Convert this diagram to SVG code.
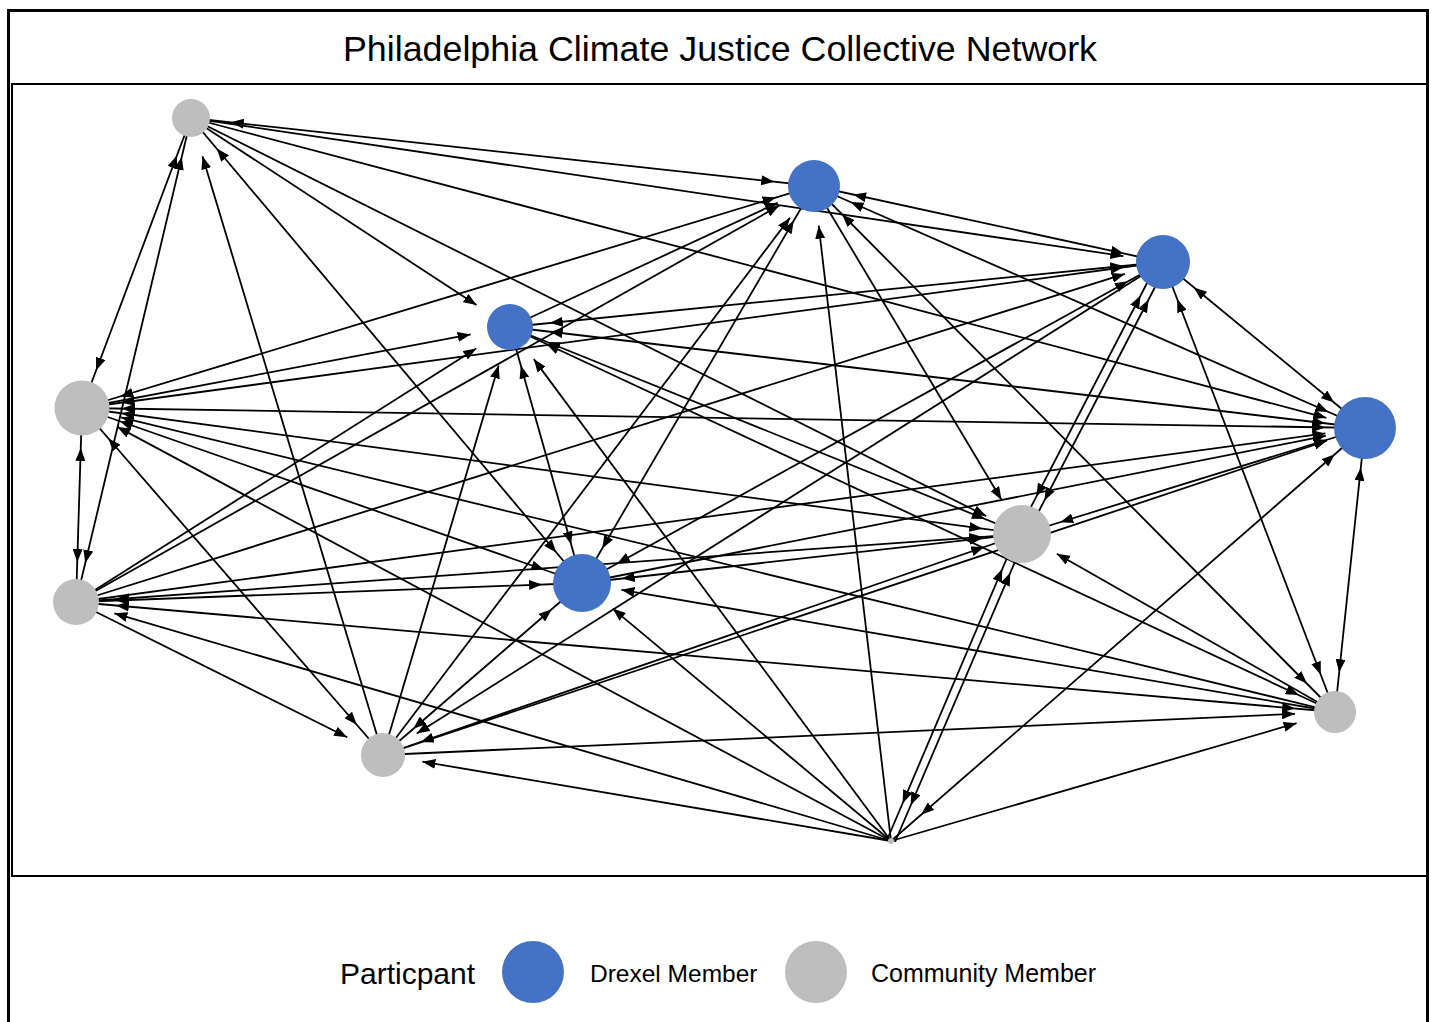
<svg xmlns="http://www.w3.org/2000/svg" width="1435" height="1022" viewBox="0 0 1435 1022">
<style>
.e{stroke:#000;stroke-width:1.8;fill:none}
.m{marker-start:url(#h2);marker-end:url(#h2)}
.o{marker-end:url(#h0)}
.g{fill:#bebebe}
.b{fill:#4472c4}
text{font-family:"Liberation Sans",Arial,sans-serif;fill:#000}
</style>
<defs>
<marker id="h0" markerUnits="userSpaceOnUse" markerWidth="13" markerHeight="10" refX="13" refY="5" orient="auto"><path d="M0,0L13,5L0,10Z" fill="#000"/></marker>
<marker id="h2" markerUnits="userSpaceOnUse" markerWidth="13" markerHeight="10" refX="53" refY="5" orient="auto-start-reverse"><path d="M0,0L13,5L0,10Z" fill="#000"/></marker>
</defs>
<rect width="1435" height="1022" fill="#fff"/>
<rect x="8.5" y="10.5" width="1419" height="1020" fill="none" stroke="#000" stroke-width="3"/>
<rect x="12" y="84" width="1415" height="792" fill="none" stroke="#000" stroke-width="2"/>
<text x="720" y="61" font-size="35.8" text-anchor="middle">Philadelphia Climate Justice Collective Network</text>
<g id="edges">
<line class="e m" x1="191" y1="118" x2="814" y2="186"/>
<line class="e m" x1="191" y1="118" x2="82" y2="408"/>
<line class="e m" x1="191" y1="118" x2="76" y2="602"/>
<line class="e m" x1="191" y1="118" x2="582" y2="583"/>
<line class="e m" x1="814" y1="186" x2="1163" y2="262"/>
<line class="e m" x1="814" y1="186" x2="1365" y2="428"/>
<line class="e m" x1="814" y1="186" x2="1335" y2="712"/>
<line class="e m" x1="814" y1="186" x2="582" y2="583"/>
<line class="e m" x1="1163" y1="262" x2="510" y2="327"/>
<line class="e m" x1="1163" y1="262" x2="1365" y2="428"/>
<line class="e m" x1="1167" y1="264" x2="1026" y2="536"/>
<line class="e m" x1="1159" y1="260" x2="1018" y2="532"/>
<line class="e m" x1="1163" y1="262" x2="582" y2="583"/>
<line class="e m" x1="1163" y1="262" x2="1335" y2="712"/>
<line class="e m" x1="814" y1="186" x2="82" y2="408"/>
<line class="e m" x1="1163" y1="262" x2="82" y2="408"/>
<line class="e m" x1="510" y1="327" x2="582" y2="583"/>
<line class="e m" x1="510" y1="327" x2="1022" y2="534"/>
<line class="e m" x1="510" y1="327" x2="1365" y2="428"/>
<line class="e m" x1="510" y1="327" x2="1335" y2="712"/>
<line class="e m" x1="82" y1="408" x2="1365" y2="428"/>
<line class="e m" x1="82" y1="408" x2="1022" y2="534"/>
<line class="e m" x1="82" y1="408" x2="582" y2="583"/>
<line class="e m" x1="82" y1="408" x2="76" y2="602"/>
<line class="e m" x1="82" y1="408" x2="383" y2="755"/>
<line class="e m" x1="1365" y1="428" x2="1022" y2="534"/>
<line class="e m" x1="1365" y1="428" x2="1335" y2="712"/>
<line class="e m" x1="1365" y1="428" x2="891" y2="841"/>
<line class="e m" x1="582" y1="583" x2="1022" y2="534"/>
<line class="e m" x1="1026" y1="536" x2="895" y2="842"/>
<line class="e m" x1="1018" y1="532" x2="887" y2="840"/>
<line class="e m" x1="582" y1="583" x2="76" y2="602"/>
<line class="e m" x1="582" y1="583" x2="383" y2="755"/>
<line class="e m" x1="76" y1="602" x2="1335" y2="712"/>
<line class="e m" x1="1022" y1="534" x2="76" y2="602"/>
<line class="e m" x1="1022" y1="534" x2="383" y2="755"/>
<line class="e o" x1="191" y1="118" x2="1123.4" y2="256.1"/>
<line class="e o" x1="191" y1="118" x2="476.5" y2="305.1"/>
<line class="e o" x1="191" y1="118" x2="1326.3" y2="417.8"/>
<line class="e o" x1="191" y1="118" x2="986.2" y2="516.1"/>
<line class="e o" x1="383" y1="755" x2="202.5" y2="156.3"/>
<line class="e o" x1="510" y1="327" x2="777.7" y2="202.8"/>
<line class="e o" x1="76" y1="602" x2="779.2" y2="205.6"/>
<line class="e o" x1="814" y1="186" x2="1001.5" y2="499.7"/>
<line class="e o" x1="383" y1="755" x2="789.9" y2="217.9"/>
<line class="e o" x1="891" y1="841" x2="818.7" y2="225.7"/>
<line class="e o" x1="76" y1="602" x2="1124.8" y2="273.9"/>
<line class="e o" x1="1163" y1="262" x2="416.8" y2="733.6"/>
<line class="e o" x1="82" y1="408" x2="470.7" y2="334.4"/>
<line class="e o" x1="76" y1="602" x2="476.2" y2="348.4"/>
<line class="e o" x1="383" y1="755" x2="498.6" y2="365.4"/>
<line class="e o" x1="891" y1="841" x2="533.8" y2="359.1"/>
<line class="e o" x1="1335" y1="712" x2="120.9" y2="417.4"/>
<line class="e o" x1="891" y1="841" x2="117.3" y2="426.9"/>
<line class="e o" x1="582" y1="583" x2="1325.8" y2="435.8"/>
<line class="e o" x1="76" y1="602" x2="1325.4" y2="433.4"/>
<line class="e o" x1="383" y1="755" x2="1327" y2="440.6"/>
<line class="e o" x1="1335" y1="712" x2="1056.8" y2="553.8"/>
<line class="e o" x1="1335" y1="712" x2="621.4" y2="589.8"/>
<line class="e o" x1="891" y1="841" x2="612.7" y2="608.6"/>
<line class="e o" x1="76" y1="602" x2="347.2" y2="737.2"/>
<line class="e o" x1="891" y1="841" x2="114.4" y2="613.3"/>
<line class="e o" x1="383" y1="755" x2="1295" y2="713.8"/>
<line class="e o" x1="891" y1="841" x2="1296.6" y2="723.2"/>
<line class="e o" x1="891" y1="841" x2="422.4" y2="761.7"/>
</g>
<g id="nA"><circle class="g" cx="191" cy="118" r="19"/></g>
<g id="nB"><circle class="b" cx="814" cy="186" r="26"/></g>
<g id="nC"><circle class="b" cx="1163" cy="262" r="27"/></g>
<g id="nD"><circle class="b" cx="510" cy="327" r="23"/></g>
<g id="nE"><circle class="g" cx="82" cy="408" r="27.5"/></g>
<g id="nF"><circle class="b" cx="1365" cy="428" r="31"/></g>
<g id="nG"><circle class="g" cx="1022" cy="534" r="29"/></g>
<g id="nH"><circle class="b" cx="582" cy="583" r="29"/></g>
<g id="nI"><circle class="g" cx="76" cy="602" r="23"/></g>
<g id="nJ"><circle class="g" cx="1335" cy="712" r="21"/></g>
<g id="nK"><circle class="g" cx="383" cy="755" r="22"/></g>
<g id="nL"><circle class="g" cx="891" cy="841" r="3"/></g>
<g id="legend">
<text x="340" y="984" font-size="30">Particpant</text>
<circle class="b" cx="533" cy="972" r="31"/>
<text x="590" y="982" font-size="24.5">Drexel Member</text>
<circle class="g" cx="816" cy="972" r="31"/>
<text x="871" y="982" font-size="25">Community Member</text>
</g>
</svg>
